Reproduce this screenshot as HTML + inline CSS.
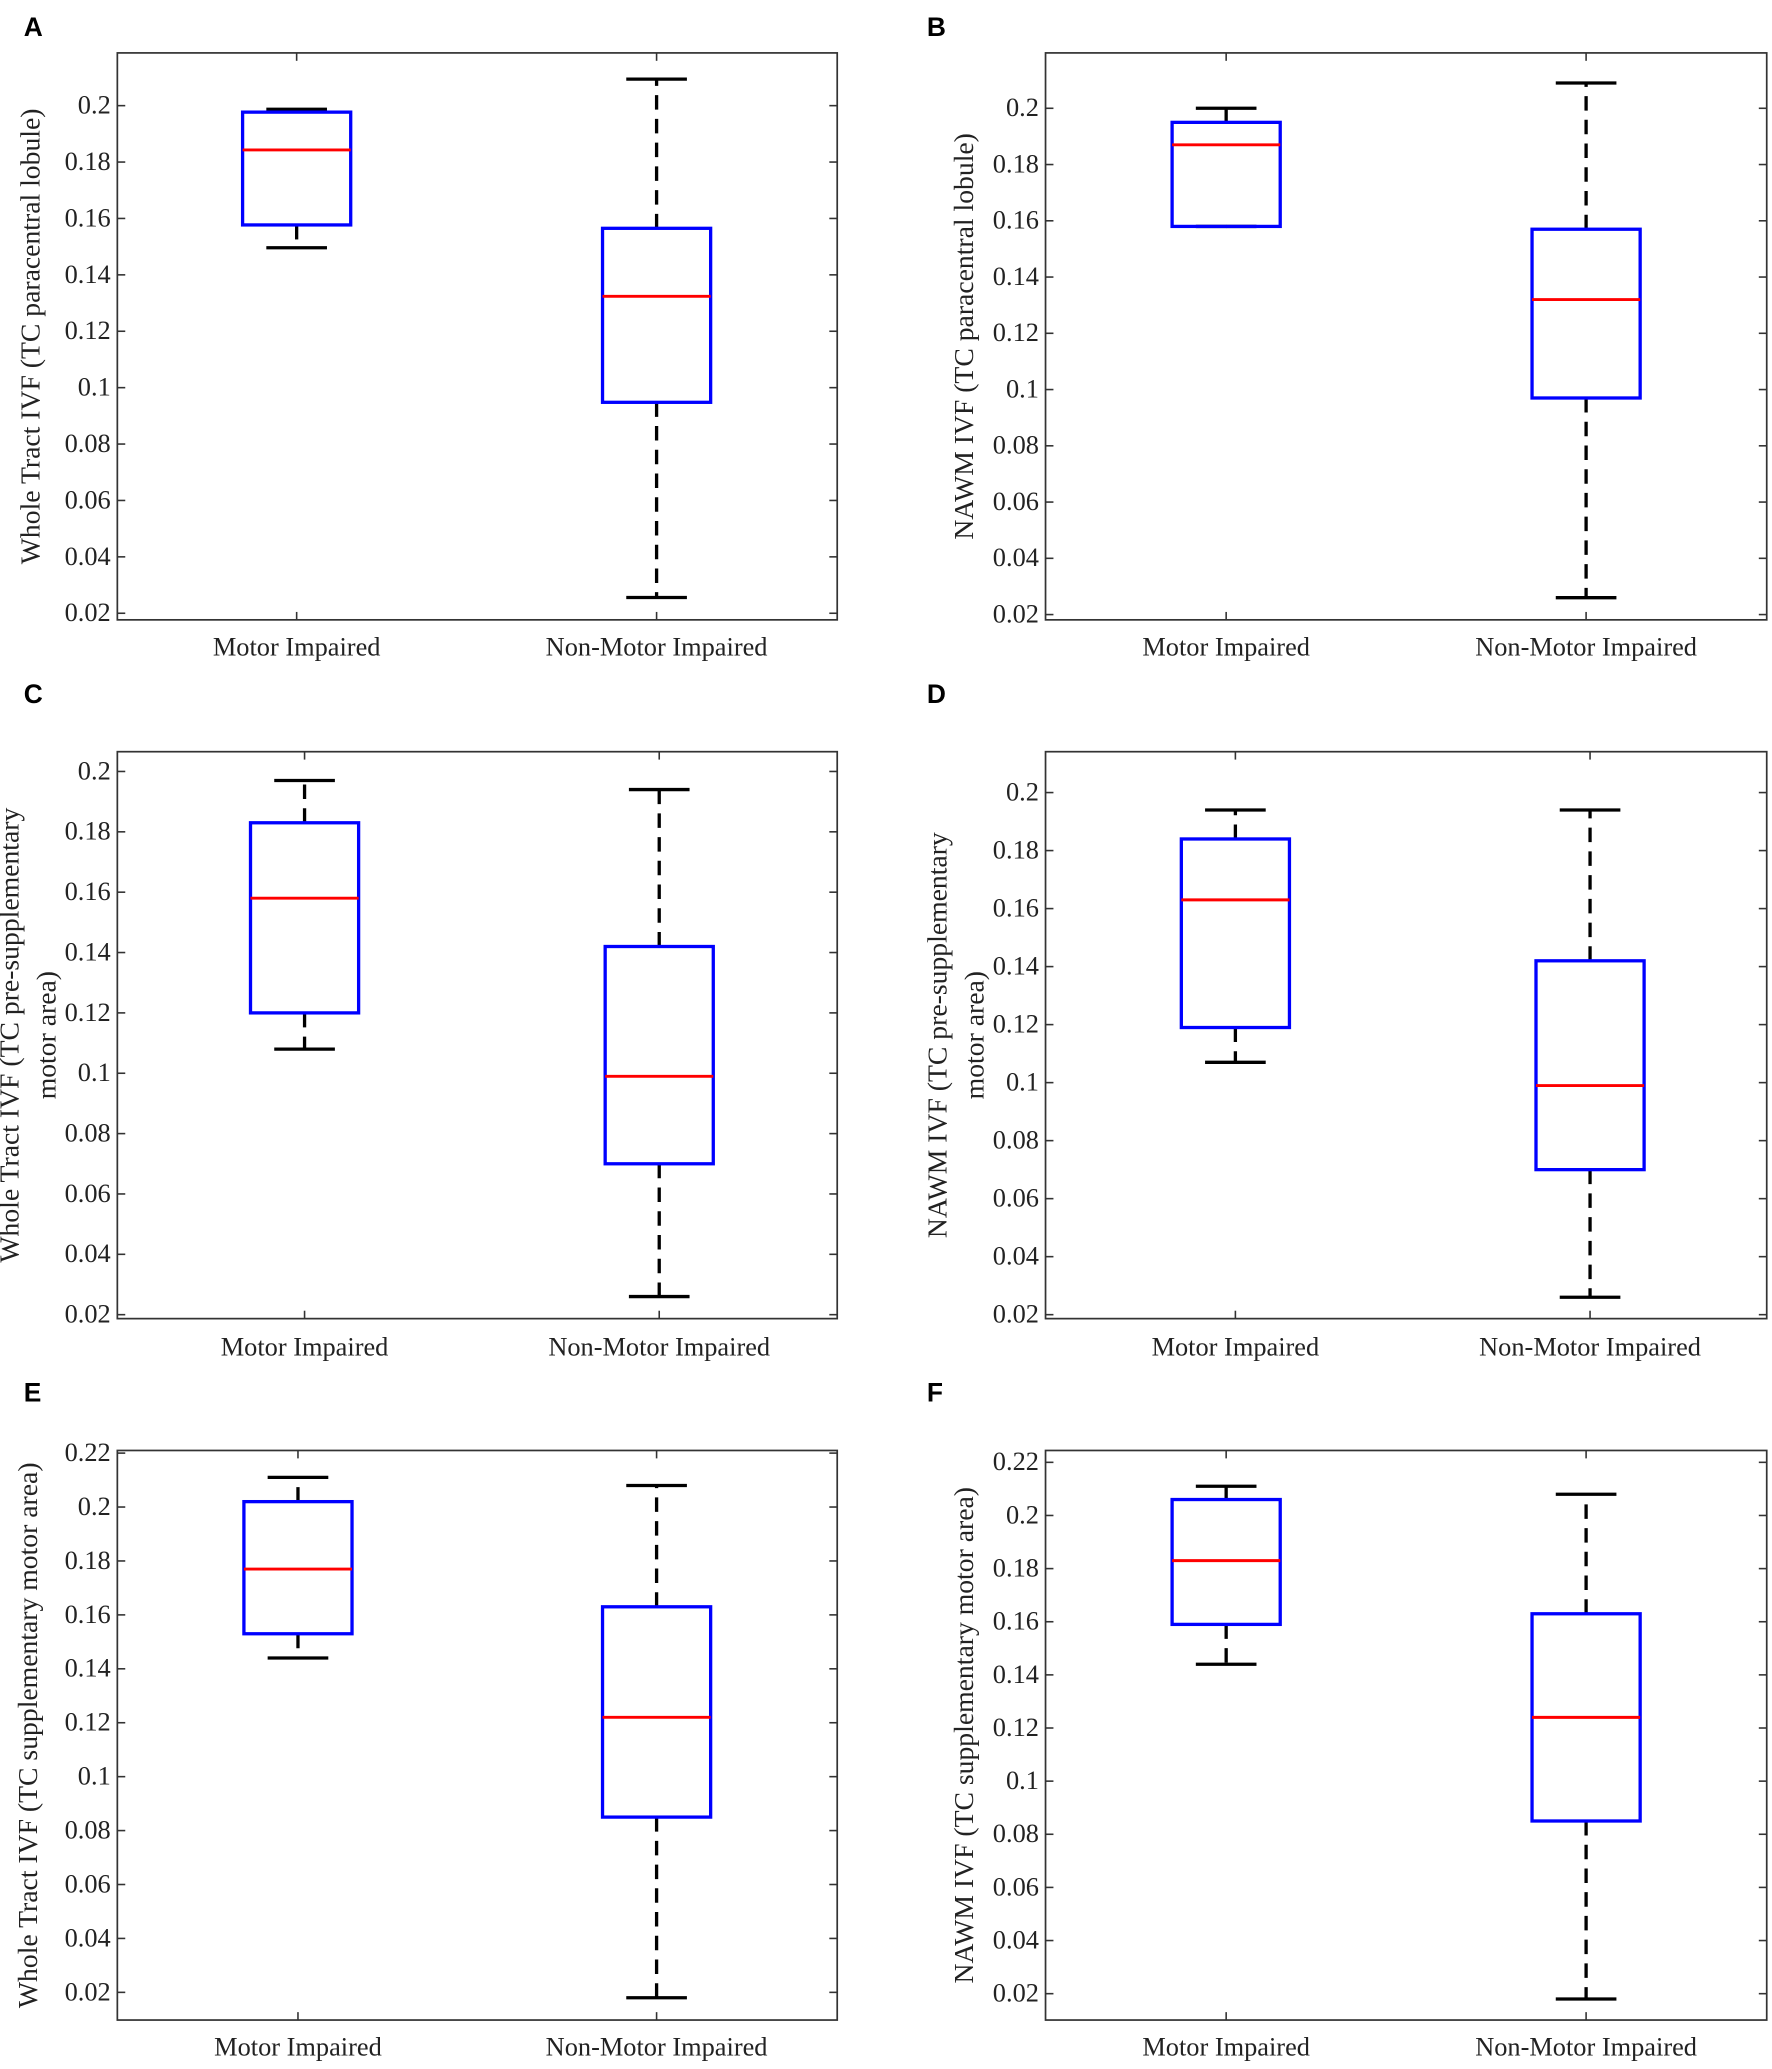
<!DOCTYPE html>
<html><head><meta charset="utf-8"><style>
html,body{margin:0;padding:0;background:#fff;}
svg{display:block;}
text{font-family:"Liberation Serif",serif;fill:#222;}
.lt{font-family:"Liberation Sans",sans-serif;font-weight:bold;fill:#000;}
</style></head><body>
<svg id="fig" width="1772" height="2069" viewBox="0 0 1344 1569" xmlns="http://www.w3.org/2000/svg"></svg>
<script>
const categories = ["Motor Impaired", "Non-Motor Impaired"];
const panelLetters = ["A","B","C","D","E","F"];
const yLabels = [
  ["Whole Tract IVF (TC paracentral lobule)"],
  ["NAWM IVF (TC paracentral lobule)"],
  ["Whole Tract IVF (TC pre-supplementary","motor area)"],
  ["NAWM IVF (TC pre-supplementary","motor area)"],
  ["Whole Tract IVF (TC supplementary motor area)"],
  ["NAWM IVF (TC supplementary motor area)"]
];
const ticksSmall = ["0.02","0.04","0.06","0.08","0.1","0.12","0.14","0.16","0.18","0.2"];
const ticksLarge = ["0.02","0.04","0.06","0.08","0.1","0.12","0.14","0.16","0.18","0.2","0.22"];
// [lowerWhisker, Q1, median, Q3, upperWhisker] per category
const statsA = [[0.1496,0.1577,0.1843,0.1977,0.1987],[0.0256,0.0948,0.1324,0.1565,0.2094]];
const statsB = [[0.158,0.158,0.187,0.195,0.200],[0.026,0.097,0.132,0.157,0.209]];
const statsC = [[0.108,0.120,0.158,0.183,0.197],[0.026,0.070,0.099,0.142,0.194]];
const statsD = [[0.107,0.119,0.163,0.184,0.194],[0.026,0.070,0.099,0.142,0.194]];
const statsE = [[0.144,0.153,0.177,0.202,0.211],[0.018,0.085,0.122,0.163,0.208]];
const statsF = [[0.144,0.159,0.183,0.206,0.211],[0.018,0.085,0.124,0.163,0.208]];
const allStats = [statsA,statsB,statsC,statsD,statsE,statsF];

const layouts = [
 {x0:89,x1:635,y0:40,y1:470,v0:0.02,p0:465,v1:0.2,p1:80,cx:[225,498],lx:[30],ly:255,lbx:18,lby:27,xl:491,ticks:ticksSmall},
 {x0:793,x1:1340,y0:40,y1:470,v0:0.02,p0:466,v1:0.2,p1:82,cx:[930,1203],lx:[738],ly:255,lbx:703,lby:27,xl:491,ticks:ticksSmall},
 {x0:89,x1:635,y0:570,y1:1000,v0:0.02,p0:997,v1:0.2,p1:585,cx:[231,500],lx:[14,42],ly:785,lbx:18,lby:533,xl:1022,ticks:ticksSmall},
 {x0:793,x1:1340,y0:570,y1:1000,v0:0.02,p0:997,v1:0.2,p1:601,cx:[937,1206],lx:[718,746],ly:785,lbx:703,lby:533,xl:1022,ticks:ticksSmall},
 {x0:89,x1:635,y0:1100,y1:1532,v0:0.02,p0:1511,v1:0.22,p1:1102,cx:[226,498],lx:[28],ly:1316,lbx:18,lby:1063,xl:1553,ticks:ticksLarge},
 {x0:793,x1:1340,y0:1100,y1:1532,v0:0.02,p0:1512,v1:0.22,p1:1109,cx:[930,1203],lx:[738],ly:1316,lbx:703,lby:1063,xl:1553,ticks:ticksLarge}
];
const NS="http://www.w3.org/2000/svg";
const svg=document.getElementById('fig');
const SERIF='"Liberation Serif", serif';
function mk(tag,attrs,parent){const e=document.createElementNS(NS,tag);for(const k in attrs)e.setAttribute(k,attrs[k]);(parent||svg).appendChild(e);return e;}

layouts.forEach((L,pi)=>{
  const g=mk('g',{});
  
  
  const y=v=>L.p0+(v-L.v0)*(L.p1-L.p0)/(L.v1-L.v0);
  const lt=mk('text',{x:L.lbx,y:L.lby,'font-size':20,class:'lt'},g);lt.textContent=panelLetters[pi];
  
  
  const ax=mk('rect',{x:L.x0,y:L.y0,width:L.x1-L.x0,height:L.y1-L.y0,fill:'none',stroke:'#333','stroke-width':1.3},g);
  
  
  L.ticks.forEach(t=>{
    const v=parseFloat(t),py=y(v);
    mk('line',{x1:L.x0,x2:L.x0+6,y1:py,y2:py,stroke:'#333','stroke-width':1.2},g);
    mk('line',{x1:L.x1,x2:L.x1-6,y1:py,y2:py,stroke:'#333','stroke-width':1.2},g);
    const tx=mk('text',{x:L.x0-5,y:py+6,'font-size':20,'text-anchor':'end','font-family':SERIF},g);tx.textContent=t;
    
    
  });
  categories.forEach((c,ci)=>{
    const cx=L.cx[ci];
    mk('line',{x1:cx,x2:cx,y1:L.y0,y2:L.y0+6,stroke:'#333','stroke-width':1.2},g);
    mk('line',{x1:cx,x2:cx,y1:L.y1,y2:L.y1-6,stroke:'#333','stroke-width':1.2},g);
    const tx=mk('text',{x:cx,y:L.xl+6,'font-size':20,'text-anchor':'middle','font-family':SERIF},g);tx.textContent=c;
    
    
    const s=allStats[pi][ci];
    const bg=mk('g',{},g);
    
    
    mk('line',{x1:cx,x2:cx,y1:y(s[3]),y2:y(s[4]),stroke:'#000','stroke-width':2.5,'stroke-dasharray':'11 7'},bg);
    mk('line',{x1:cx,x2:cx,y1:y(s[1]),y2:y(s[0]),stroke:'#000','stroke-width':2.5,'stroke-dasharray':'11 7'},bg);
    mk('line',{x1:cx-23,x2:cx+23,y1:y(s[4]),y2:y(s[4]),stroke:'#000','stroke-width':2.5},bg);
    mk('line',{x1:cx-23,x2:cx+23,y1:y(s[0]),y2:y(s[0]),stroke:'#000','stroke-width':2.5},bg);
    mk('rect',{x:cx-41,y:y(s[3]),width:82,height:Math.max(0.5,y(s[1])-y(s[3])),fill:'none',stroke:'#0000ff','stroke-width':2.5},bg);
    mk('line',{x1:cx-41,x2:cx+41,y1:y(s[2]),y2:y(s[2]),stroke:'#ff0000','stroke-width':2.2},bg);
  });
  const lines=yLabels[pi];
  lines.forEach((ln,li)=>{
    const x=L.lx[li];
    const tx=mk('text',{x:x,y:L.ly,'font-size':21,'text-anchor':'middle','font-family':SERIF,transform:`rotate(-90 ${x} ${L.ly})`},g);
    tx.textContent=ln;
    
    
  });
});
</script>
</body></html>
